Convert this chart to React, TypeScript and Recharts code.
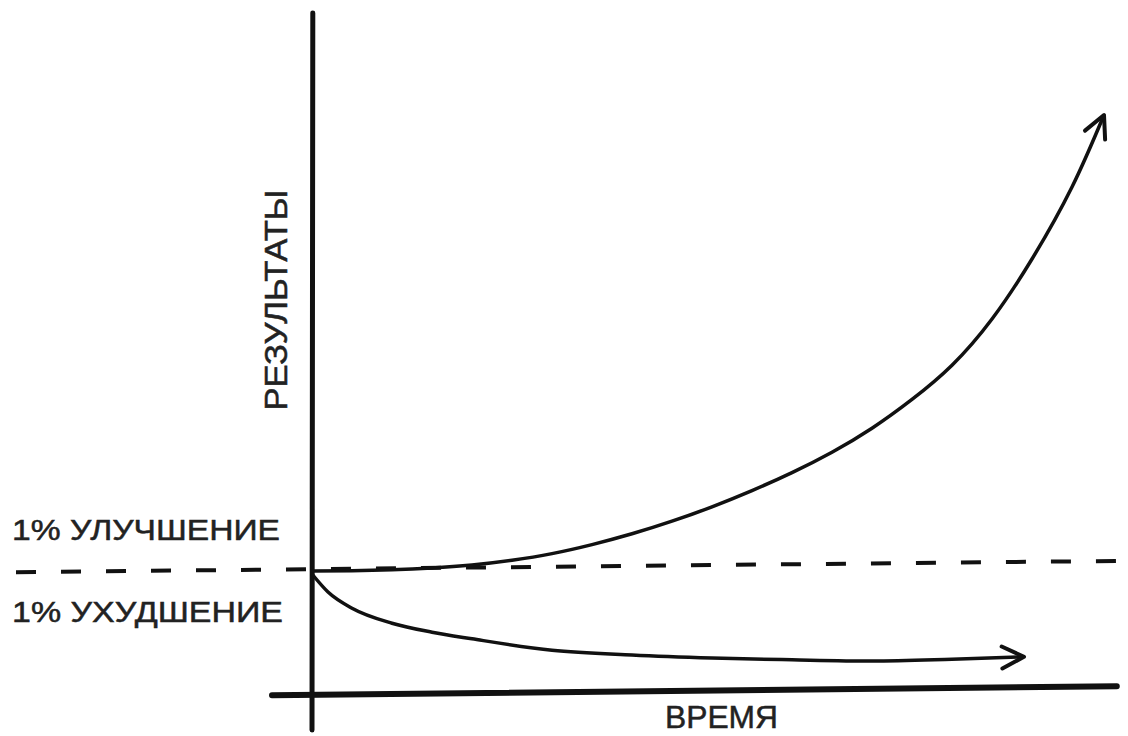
import React from 'react';
import { ComposedChart, Line, XAxis, YAxis, ReferenceLine } from 'recharts';

// time units on the horizontal, result units on the vertical
const upperTime = [0, 5, 10, 15, 20, 25, 30, 35, 40, 45, 50, 55, 60, 65, 70, 75, 80, 85, 90, 95, 99];
const upperResult = [20, 20.05, 20.2, 20.5, 21.0, 21.8, 22.9, 24.4, 26.2, 28.3, 30.7, 33.4, 36.4, 39.8, 43.8, 48.6, 54.3, 62, 72, 84, 96];

const lowerTime = [0, 2, 5, 10, 15, 20, 30, 40, 50, 60, 70, 80, 89];
const lowerResult = [19.5, 16.5, 13.8, 11.3, 9.8, 8.7, 6.8, 6.0, 5.5, 5.2, 5.0, 5.3, 5.7];

// hand-drawn guide lines: [start, end]
const valueAxisTime = [0, 0.1];
const valueAxisResult = [-6.5, 113];
const timeAxisTime = [-5, 100.6];
const timeAxisResult = [-0.7, 0.8];
const baselineTime = [-37, 102];
const baselineResult = [19.8, 21.7];

const labels = {
  value: 'РЕЗУЛЬТАТЫ',
  time: 'ВРЕМЯ',
  better: '1% УЛУЧШЕНИЕ',
  worse: '1% УХУДШЕНИЕ',
};

const toRows = (ts: number[], vs: number[]) => ts.map((t, i) => ({ t, v: vs[i] }));
const toSegment = (ts: number[], vs: number[]) => ts.map((t, i) => ({ x: t, y: vs[i] }));

const upperData = toRows(upperTime, upperResult);
const lowerData = toRows(lowerTime, lowerResult);

const INK = '#111';
const TEXT = '#222';
const FONT = '"Liberation Sans", Arial, sans-serif';

// open arrowhead on the last point, pointing along the last segment
const renderArrow = (props: any) => {
  const { cx, cy, index, points } = props;
  if (!points || index !== points.length - 1) return <g key={`a-${index}`} />;
  const prev = points[index - 1];
  const angle = (Math.atan2(cy - prev.y, cx - prev.x) * 180) / Math.PI;
  return (
    <path
      key={`a-${index}`}
      d="M-22,-11 L0,0 L-22,11"
      transform={`translate(${cx},${cy}) rotate(${angle})`}
      fill="none"
      stroke={INK}
      strokeWidth={4}
      strokeLinecap="round"
      strokeLinejoin="round"
    />
  );
};

const textStyle = { fontFamily: FONT, fill: TEXT, stroke: TEXT, strokeWidth: 0.5 };

export default function App() {
  return (
    <div style={{ position: 'absolute', left: 0, top: 0, width: 1128, height: 736, background: '#fff' }}>
      <ComposedChart width={1128} height={736} margin={{ top: 0, right: 0, bottom: 0, left: 0 }}>
        <XAxis type="number" dataKey="t" domain={[-39, 102]} allowDataOverflow hide />
        <YAxis type="number" dataKey="v" domain={[-7.5, 115.1667]} allowDataOverflow hide />

        <ReferenceLine segment={toSegment(baselineTime, baselineResult)} stroke={INK} strokeWidth={4} strokeDasharray="20 25" ifOverflow="visible" />
        <ReferenceLine segment={toSegment(valueAxisTime, valueAxisResult)} stroke={INK} strokeWidth={5} strokeLinecap="round" ifOverflow="visible" />
        <ReferenceLine segment={toSegment(timeAxisTime, timeAxisResult)} stroke={INK} strokeWidth={6} strokeLinecap="round" ifOverflow="visible" />

        <Line data={upperData} dataKey="v" type="natural" stroke={INK} strokeWidth={3.5} dot={renderArrow} activeDot={false} isAnimationActive={false} />
        <Line data={lowerData} dataKey="v" type="monotone" stroke={INK} strokeWidth={3.5} dot={renderArrow} activeDot={false} isAnimationActive={false} />

        <text x={287} y={300} transform="rotate(-90 287 300)" textAnchor="middle" fontSize={31} textLength={221} lengthAdjust="spacingAndGlyphs" {...textStyle}>
          {labels.value}
        </text>
        <text x={12} y={540} fontSize={30} textLength={268} lengthAdjust="spacingAndGlyphs" {...textStyle}>
          {labels.better}
        </text>
        <text x={12} y={622} fontSize={30} textLength={271} lengthAdjust="spacingAndGlyphs" {...textStyle}>
          {labels.worse}
        </text>
        <text x={665} y={728} fontSize={32} textLength={113} lengthAdjust="spacingAndGlyphs" {...textStyle}>
          {labels.time}
        </text>
      </ComposedChart>
    </div>
  );
}
